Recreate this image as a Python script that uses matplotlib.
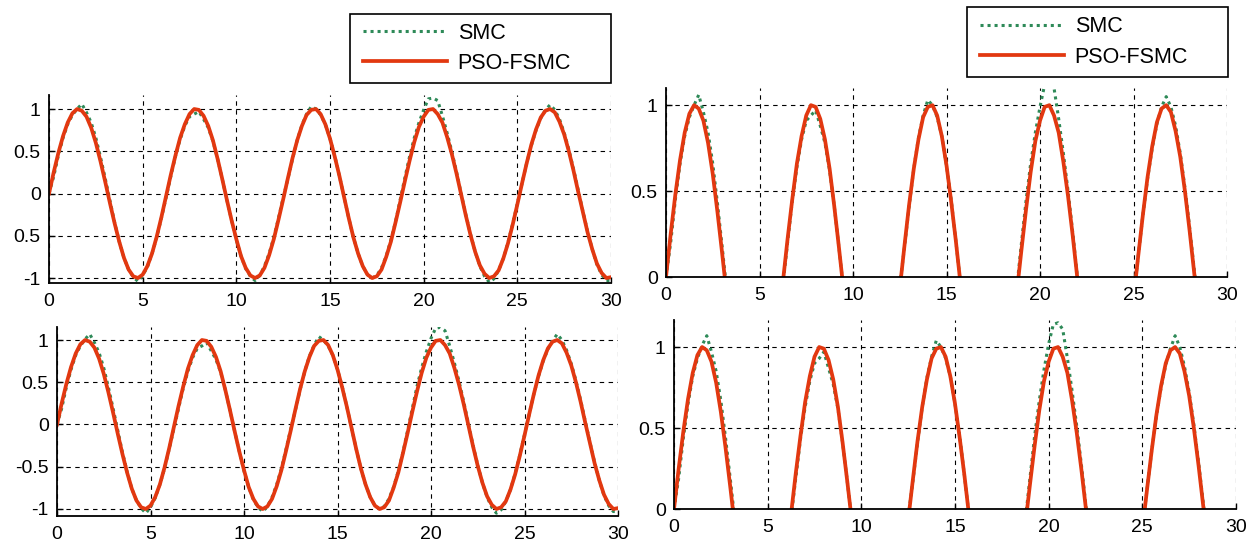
import matplotlib
matplotlib.use("Agg")
import matplotlib.pyplot as plt
from matplotlib.patches import Rectangle

# ---------------- data ----------------
t = [i * 0.25 for i in range(121)]  # time axis 0..30, step 0.25

pso_top = [0.00, 0.25, 0.48, 0.68, 0.84, 0.95, 1.00, 0.98, 0.91, 0.78, 0.60, 0.38,
           0.14, -0.11, -0.35, -0.57, -0.76, -0.90, -0.98, -1.00, -0.96, -0.86, -0.71, -0.51,
           -0.28, -0.03, 0.22, 0.45, 0.66, 0.82, 0.94, 1.00, 0.99, 0.92, 0.80, 0.63,
           0.41, 0.17, -0.08, -0.32, -0.54, -0.74, -0.88, -0.97, -1.00, -0.97, -0.88, -0.73,
           -0.54, -0.31, -0.07, 0.18, 0.42, 0.63, 0.80, 0.93, 0.99, 1.00, 0.94, 0.82,
           0.65, 0.44, 0.21, -0.04, -0.29, -0.52, -0.71, -0.86, -0.96, -1.00, -0.98, -0.90,
           -0.75, -0.57, -0.34, -0.10, 0.15, 0.39, 0.61, 0.79, 0.91, 0.99, 1.00, 0.94,
           0.84, 0.67, 0.47, 0.24, -0.01, -0.26, -0.49, -0.69, -0.85, -0.95, -1.00, -0.98,
           -0.91, -0.77, -0.59, -0.37, -0.13, 0.12, 0.36, 0.58, 0.76, 0.90, 0.98, 1.00,
           0.96, 0.85, 0.70, 0.50, 0.27, 0.02, -0.22, -0.46, -0.66, -0.83, -0.94, -1.00,
           -0.99]

smc_top = [0.00, 0.20, 0.45, 0.66, 0.82, 0.93, 1.00, 1.06, 0.96, 0.84, 0.66, 0.43,
           0.18, -0.08, -0.34, -0.57, -0.76, -0.90, -0.99, -1.04, -0.97, -0.87, -0.71, -0.52,
           -0.29, -0.05, 0.20, 0.44, 0.64, 0.80, 0.91, 0.94, 0.97, 0.88, 0.78, 0.62,
           0.41, 0.17, -0.08, -0.32, -0.55, -0.74, -0.89, -0.98, -1.03, -0.97, -0.86, -0.71,
           -0.52, -0.29, -0.05, 0.17, 0.41, 0.63, 0.81, 0.94, 1.03, 1.00, 0.93, 0.82,
           0.65, 0.45, 0.21, -0.04, -0.29, -0.52, -0.71, -0.86, -0.96, -1.00, -0.97, -0.88,
           -0.74, -0.55, -0.33, -0.07, 0.19, 0.44, 0.66, 0.84, 0.99, 1.12, 1.13, 1.10,
           0.92, 0.72, 0.50, 0.26, 0.00, -0.25, -0.48, -0.69, -0.86, -0.98, -1.05, -1.01,
           -0.91, -0.77, -0.58, -0.36, -0.12, 0.12, 0.36, 0.57, 0.75, 0.89, 0.99, 1.05,
           0.99, 0.88, 0.72, 0.52, 0.29, 0.04, -0.21, -0.45, -0.66, -0.84, -0.96, -1.03,
           -1.03]

pso_bot = [0.00, 0.25, 0.48, 0.68, 0.84, 0.95, 1.00, 0.98, 0.91, 0.78, 0.60, 0.38,
           0.14, -0.11, -0.35, -0.57, -0.76, -0.90, -0.98, -1.00, -0.96, -0.86, -0.71, -0.51,
           -0.28, -0.03, 0.22, 0.45, 0.66, 0.82, 0.94, 1.00, 0.99, 0.92, 0.80, 0.63,
           0.41, 0.17, -0.08, -0.32, -0.54, -0.74, -0.88, -0.97, -1.00, -0.97, -0.88, -0.73,
           -0.54, -0.31, -0.07, 0.18, 0.42, 0.63, 0.80, 0.93, 0.99, 1.00, 0.94, 0.82,
           0.65, 0.44, 0.21, -0.04, -0.29, -0.52, -0.71, -0.86, -0.96, -1.00, -0.98, -0.90,
           -0.75, -0.57, -0.34, -0.10, 0.15, 0.39, 0.61, 0.79, 0.91, 0.99, 1.00, 0.94,
           0.84, 0.67, 0.47, 0.24, -0.01, -0.26, -0.49, -0.69, -0.85, -0.95, -1.00, -0.98,
           -0.91, -0.77, -0.59, -0.37, -0.13, 0.12, 0.36, 0.58, 0.76, 0.90, 0.98, 1.00,
           0.96, 0.85, 0.70, 0.50, 0.27, 0.02, -0.22, -0.46, -0.66, -0.83, -0.94, -1.00,
           -0.99]

smc_bot = [0.00, 0.19, 0.44, 0.65, 0.82, 0.93, 1.01, 1.07, 0.97, 0.85, 0.67, 0.44,
           0.19, -0.07, -0.33, -0.56, -0.76, -0.90, -0.99, -1.05, -0.98, -0.87, -0.71, -0.52,
           -0.29, -0.05, 0.19, 0.43, 0.63, 0.79, 0.90, 0.93, 0.97, 0.87, 0.77, 0.62,
           0.41, 0.17, -0.08, -0.32, -0.55, -0.74, -0.89, -0.98, -1.03, -0.97, -0.86, -0.71,
           -0.52, -0.29, -0.05, 0.17, 0.41, 0.63, 0.81, 0.94, 1.04, 1.00, 0.93, 0.82,
           0.65, 0.45, 0.21, -0.04, -0.29, -0.52, -0.71, -0.86, -0.96, -1.00, -0.97, -0.88,
           -0.74, -0.55, -0.33, -0.07, 0.19, 0.45, 0.67, 0.86, 1.02, 1.14, 1.15, 1.11,
           0.93, 0.73, 0.51, 0.27, 0.01, -0.25, -0.48, -0.69, -0.86, -0.98, -1.05, -1.01,
           -0.91, -0.77, -0.58, -0.36, -0.12, 0.12, 0.36, 0.57, 0.75, 0.89, 0.99, 1.07,
           1.00, 0.88, 0.72, 0.52, 0.29, 0.04, -0.21, -0.45, -0.66, -0.84, -0.96, -1.03,
           -1.03]

x_ticks = [0, 5, 10, 15, 20, 25, 30]
y_ticks_full = [-1, -0.5, 0, 0.5, 1]
y_labels_top_left = ["-1", "0.5", "0", "0.5", "1"]   # as printed in the figure
y_labels_full = ["-1", "-0.5", "0", "0.5", "1"]
y_ticks_half = [0, 0.5, 1]
y_labels_half = ["0", "0.5", "1"]
series_names = ["SMC", "PSO-FSMC"]

# ---------------- style ----------------
plt.rcParams["font.family"] = ["Liberation Sans", "DejaVu Sans"]
plt.rcParams["axes.unicode_minus"] = False

W, H = 1254, 544
fig = plt.figure(figsize=(W / 100, H / 100), dpi=100)

GREEN = "#2e8a58"
RED = "#e23810"


def px_axes(x0, x1, y0, y1):
    return fig.add_axes([x0 / W, 1 - y1 / H, (x1 - x0) / W, (y1 - y0) / H])


def style(ax, ylim, yticks, ylabels):
    ax.set_xlim(0, 30)
    ax.set_ylim(*ylim)
    ax.set_xticks(x_ticks)
    ax.set_xticklabels([str(v) for v in x_ticks])
    ax.set_yticks(yticks)
    ax.set_yticklabels(ylabels)
    for s in ["top", "right"]:
        ax.spines[s].set_visible(False)
    for s in ["left", "bottom"]:
        ax.spines[s].set_linewidth(1.3)
        ax.spines[s].set_color("black")
    ax.tick_params(direction="in", length=4, width=1, labelsize=14,
                   colors="black")
    ax.tick_params(axis="x", pad=7)
    ax.tick_params(axis="y", pad=6)
    ax.set_axisbelow(True)
    ax.grid(True, color="black", linestyle=(0, (4, 4)), linewidth=0.8)


def draw(ax, smc, pso):
    l1, = ax.plot(t, smc, color=GREEN, linewidth=2.2, linestyle=(0, (1, 1.3)),
                  label=series_names[0])
    l2, = ax.plot(t, pso, color=RED, linewidth=2.7, label=series_names[1])
    return l1, l2


ax1 = px_axes(49, 611, 95, 283)
h = draw(ax1, smc_top, pso_top)
style(ax1, (-1.059, 1.166), y_ticks_full, y_labels_top_left)

ax2 = px_axes(666, 1227, 88, 277)
draw(ax2, smc_top, pso_top)
style(ax2, (0, 1.1), y_ticks_half, y_labels_half)

ax3 = px_axes(57, 618, 327, 516)
draw(ax3, smc_bot, pso_bot)
style(ax3, (-1.083, 1.154), y_ticks_full, y_labels_full)

ax4 = px_axes(674, 1236, 320, 509)
draw(ax4, smc_bot, pso_bot)
style(ax4, (0, 1.167), y_ticks_half, y_labels_half)


def legend(x0, y0, x1, y1):
    # frame box (px coords)
    fig.patches.append(Rectangle((x0 / W, 1 - y1 / H), (x1 - x0) / W, (y1 - y0) / H,
                                 transform=fig.transFigure, facecolor="white",
                                 edgecolor="black", linewidth=1.2, zorder=5))
    leg = fig.legend(h, series_names, loc="center left",
                     bbox_to_anchor=(x0 / W + 13 / W, 1 - ((y0 + y1) / 2) / H),
                     bbox_transform=fig.transFigure,
                     fontsize=15.5, frameon=False,
                     handlelength=3.9, handletextpad=0.5, labelspacing=0.42,
                     borderpad=0, borderaxespad=0)
    leg.set_zorder(6)


legend(350, 14, 611, 83)
legend(967, 7, 1228, 77)

fig.savefig("out.png", dpi=100)
